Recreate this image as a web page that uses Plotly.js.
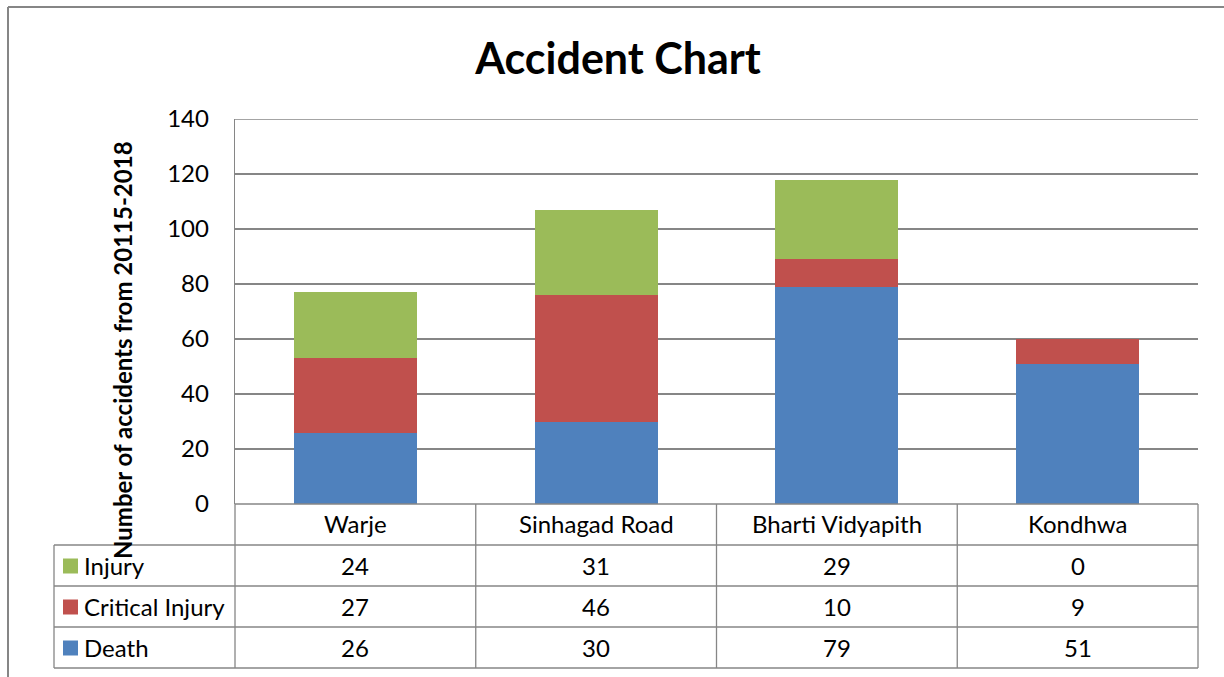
<!DOCTYPE html>
<html>
<head>
<meta charset="utf-8">
<script src="https://cdn.plot.ly/plotly-3.0.1.min.js"></script>
<style>html,body{margin:0;padding:0;background:#fff;}#chart{width:1224px;height:677px;}</style>
</head>
<body>
<div id="chart"></div>
<script>
const categories = ["Warje", "Sinhagad Road", "Bharti Vidyapith", "Kondhwa"];
const seriesNames = ["Injury", "Critical Injury", "Death"];
const injury = [24, 31, 29, 0];
const criticalInjury = [27, 46, 10, 9];
const death = [26, 30, 79, 51];
const colors = {"Injury": "#9BBB59", "Critical Injury": "#C0504D", "Death": "#4F81BD"};
const yTicks = [0, 20, 40, 60, 80, 100, 120, 140];

const W = 1224, H = 677;
const L = 235, R = 1198, T = 119, B = 504;
const pw = R - L, ph = B - T;
const px = x => (x - L) / pw;
const py = y => (B - y) / ph;
const FONT = "Lato, 'Open Sans', sans-serif";
const GRID = "#868686";
const FS = 24;

const valuesByName = {"Injury": injury, "Critical Injury": criticalInjury, "Death": death};

// stacking order bottom->top: Death, Critical Injury, Injury
const traces = ["Death", "Critical Injury", "Injury"].map(n => ({
  type: "bar",
  name: n,
  x: categories,
  y: valuesByName[n],
  marker: {color: colors[n], line: {width: 0}},
  width: 0.51,
  hoverinfo: "x+y+name"
}));

const shapes = [];
const annotations = [];
const line = (x0, y0, x1, y1, w) => shapes.push({type: "line", xref: "paper", yref: "paper",
  x0: px(x0), y0: py(y0), x1: px(x1), y1: py(y1), line: {color: GRID, width: w || 1.3}});

// outer chart border (left + top)
line(8, 7, 8, 690, 2);
line(8, 7, 1230, 7, 2);

// top gridline at the axis maximum
shapes.push({type: "line", xref: "paper", yref: "y", x0: 0, x1: 1,
  y0: yTicks[yTicks.length - 1], y1: yTicks[yTicks.length - 1], line: {color: GRID, width: 1.3}});

// table geometry
const rowH = 41;
const tableLeft = 54;
const colEdges = categories.map((c, i) => L + i * pw / categories.length).concat([R]);
const rowTop = [B, B + rowH, B + 2 * rowH, B + 3 * rowH, B + 4 * rowH];

// horizontal lines
line(L, B, R, B);
for (let r = 1; r < rowTop.length; r++) line(tableLeft, rowTop[r], R, rowTop[r]);
// vertical lines
colEdges.forEach(x => line(x, B, x, rowTop[4]));
line(tableLeft, rowTop[1], tableLeft, rowTop[4]);

// category labels
categories.forEach((c, i) => annotations.push({
  xref: "x", yref: "paper", x: i, y: py((rowTop[0] + rowTop[1]) / 2 - 1),
  text: c, showarrow: false, xanchor: "center", yanchor: "middle",
  font: {family: FONT, size: FS, color: "#000"}
}));

// value rows + legend keys
seriesNames.forEach((n, r) => {
  const yc = (rowTop[r + 1] + rowTop[r + 2]) / 2;
  const vals = valuesByName[n];
  vals.forEach((v, i) => annotations.push({
    xref: "x", yref: "paper", x: i, y: py(yc), text: String(v), showarrow: false,
    xanchor: "center", yanchor: "middle", font: {family: FONT, size: FS, color: "#000"}
  }));
  shapes.push({type: "rect", xref: "paper", yref: "paper",
    x0: px(63), x1: px(78), y0: py(yc - 7), y1: py(yc + 8),
    fillcolor: colors[n], line: {width: 0}});
  annotations.push({xref: "paper", yref: "paper", x: px(82), y: py(yc), text: n,
    showarrow: false, xanchor: "left", yanchor: "middle",
    font: {family: FONT, size: FS, color: "#000"}});
});

// y axis title (Excel places it spanning into the table area)
annotations.push({xref: "paper", yref: "paper", x: px(122), y: py(350),
  text: "<b>Number of accidents from 20115-2018</b>", textangle: -90, showarrow: false,
  xanchor: "center", yanchor: "middle", font: {family: FONT, size: 24, color: "#000"}});

const layout = {
  width: W, height: H,
  paper_bgcolor: "#fff", plot_bgcolor: "#fff",
  margin: {l: L, r: W - R, t: T, b: H - B, pad: 0},
  barmode: "stack",
  showlegend: false,
  title: {text: "<b>Accident Chart</b>", xref: "container", yref: "container",
    x: 618 / W, y: 1 - 59 / H, xanchor: "center", yanchor: "middle",
    font: {family: FONT, size: 43, color: "#000"}},
  xaxis: {type: "category", range: [-0.5, categories.length - 0.5], showticklabels: false,
    ticks: "", showgrid: false, zeroline: false, showline: false, fixedrange: true},
  yaxis: {range: [0, 140], tickvals: yTicks, ticktext: yTicks.map(String),
    showgrid: true, gridcolor: GRID, gridwidth: 1.3, zeroline: false,
    showline: true, linecolor: GRID, linewidth: 1.3, ticks: "",
    ticklabelstandoff: 20, tickfont: {family: FONT, size: 24, color: "#000"}, fixedrange: true},
  shapes: shapes,
  annotations: annotations
};

Plotly.newPlot("chart", traces, layout, {displayModeBar: false, staticPlot: true});
</script>
</body>
</html>
